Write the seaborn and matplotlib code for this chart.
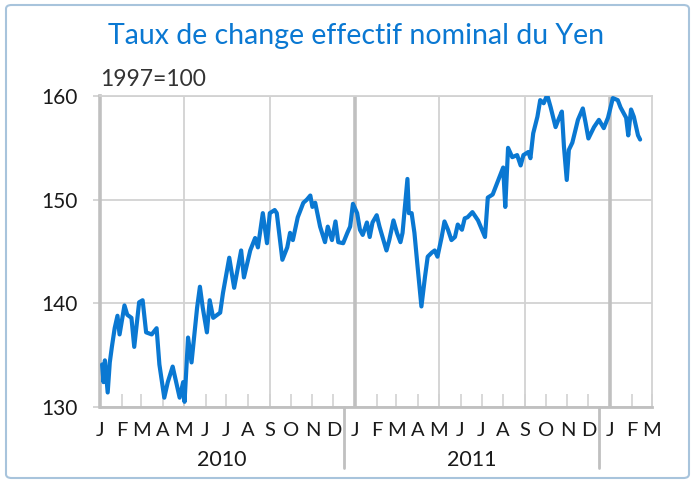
import matplotlib
matplotlib.use("Agg")
import matplotlib.pyplot as plt
import matplotlib.transforms as mtransforms
from matplotlib.patches import FancyBboxPatch
import seaborn as sns
import pandas as pd

# ---------------- data ----------------
dates = [
    "2010-01-04", "2010-01-06", "2010-01-08", "2010-01-12", "2010-01-15", "2010-01-18",
    "2010-01-22", "2010-01-26", "2010-01-29", "2010-02-05", "2010-02-09", "2010-02-15",
    "2010-02-19", "2010-02-26", "2010-03-03", "2010-03-08", "2010-03-16", "2010-03-23",
    "2010-03-27", "2010-04-03", "2010-04-08", "2010-04-15", "2010-04-21", "2010-04-25",
    "2010-04-30", "2010-05-02", "2010-05-07", "2010-05-12", "2010-05-20", "2010-05-24",
    "2010-05-28", "2010-06-03", "2010-06-07", "2010-06-12", "2010-06-22", "2010-06-26",
    "2010-07-05", "2010-07-12", "2010-07-22", "2010-07-26", "2010-08-04", "2010-08-11",
    "2010-08-15", "2010-08-22", "2010-08-28", "2010-09-01", "2010-09-08", "2010-09-11",
    "2010-09-19", "2010-09-26", "2010-09-30", "2010-10-04", "2010-10-11", "2010-10-19",
    "2010-10-24", "2010-10-29", "2010-11-01", "2010-11-05", "2010-11-12", "2010-11-19",
    "2010-11-23", "2010-11-29", "2010-12-04", "2010-12-08", "2010-12-15", "2010-12-21",
    "2010-12-25", "2010-12-29",
    "2011-01-04", "2011-01-08", "2011-01-12", "2011-01-18", "2011-01-22", "2011-01-26",
    "2011-02-01", "2011-02-05", "2011-02-15", "2011-02-19", "2011-02-25", "2011-03-02",
    "2011-03-07", "2011-03-10", "2011-03-17", "2011-03-19", "2011-03-23", "2011-03-27",
    "2011-03-31", "2011-04-06", "2011-04-11", "2011-04-15", "2011-04-21", "2011-04-25",
    "2011-04-29", "2011-05-05", "2011-05-09", "2011-05-14", "2011-05-19", "2011-05-24",
    "2011-05-28", "2011-06-03", "2011-06-07", "2011-06-11", "2011-06-18", "2011-06-26",
    "2011-07-06", "2011-07-10", "2011-07-17", "2011-07-25", "2011-08-01", "2011-08-04",
    "2011-08-08", "2011-08-14", "2011-08-21", "2011-08-26", "2011-08-30", "2011-09-06",
    "2011-09-09", "2011-09-13", "2011-09-19", "2011-09-23", "2011-09-28", "2011-10-03",
    "2011-10-08", "2011-10-15", "2011-10-19", "2011-10-24", "2011-10-27", "2011-10-31",
    "2011-11-03", "2011-11-08", "2011-11-16", "2011-11-23", "2011-11-27", "2011-12-01",
    "2011-12-09", "2011-12-16", "2011-12-23", "2011-12-29",
    "2012-01-05", "2012-01-12", "2012-01-16", "2012-01-24", "2012-01-27", "2012-01-31",
    "2012-02-04", "2012-02-10", "2012-02-13",
]
values = [
    134.1, 132.4, 134.5, 131.4, 134.3, 135.8,
    137.6, 138.8, 137.0, 139.8, 138.9, 138.6,
    135.8, 140.1, 140.3, 137.2, 137.0, 137.6,
    134.1, 130.9, 132.4, 133.9, 132.1, 130.9,
    132.4, 130.5, 136.7, 134.3, 139.6, 141.6,
    139.6, 137.2, 140.3, 138.6, 139.1, 141.0,
    144.4, 141.5, 145.1, 142.5, 145.1, 146.3,
    145.4, 148.7, 145.8, 148.7, 149.0, 148.7,
    144.2, 145.4, 146.8, 146.1, 148.3, 149.7,
    150.0, 150.4, 149.3, 149.7, 147.4, 145.9,
    147.4, 146.1, 147.9, 145.9, 145.8, 146.8,
    147.4, 149.6,
    148.7, 147.1, 146.6, 147.8, 146.4, 147.8,
    148.5, 147.4, 145.1, 146.1, 148.0, 146.8,
    145.9, 146.8, 152.0, 148.7, 148.7, 146.8,
    143.9, 139.7, 142.5, 144.5, 144.9, 145.1,
    144.5, 146.4, 147.9, 147.1, 146.1, 146.4,
    147.6, 147.1, 148.2, 148.3, 148.8, 148.0,
    146.4, 150.2, 150.5, 151.9, 153.1, 149.3,
    155.0, 154.1, 154.3, 153.3, 154.3, 154.6,
    154.0, 156.4, 158.0, 159.6, 159.3, 160.1,
    158.9, 157.0, 157.7, 158.5, 155.1, 151.9,
    154.8, 155.5, 157.7, 158.8, 157.4, 155.9,
    157.0, 157.7, 156.9, 157.9,
    159.8, 159.6, 158.9, 157.9, 156.2, 158.7,
    158.0, 156.2, 155.8,
]
month_letters = ["J", "F", "M", "A", "M", "J", "J", "A", "S", "O", "N", "D"]
years = ["2010", "2011"]
title = "Taux de change effectif nominal du Yen"
base_note = "1997=100"
y_ticks = [130, 140, 150, 160]

# ---------------- styling ----------------
sns.set_theme(style="white")
plt.rcParams['font.family'] = ['Lato', 'DejaVu Sans']

BLUE = "#0a78d2"
GRID = "#d2d2d2"
DARKGRID = "#c0c0c0"
TXT = "#1a1a1a"

df = pd.DataFrame({"date": pd.to_datetime(dates), "value": values})

fig = plt.figure(figsize=(6.95, 4.83), dpi=100)
ax = fig.add_axes([100 / 695, 1 - 407 / 483, 552 / 695, 311 / 483])

x0 = pd.Timestamp("2010-01-01")
x1 = pd.Timestamp("2012-03-01")
months = pd.date_range(x0, x1, freq="MS")

# vertical gridlines every four months
for m in months:
    if m.month == 1 and m != x0:
        ax.axvline(m, color=DARKGRID, lw=2.6, zorder=1)
    elif m.month in (5, 9):
        ax.axvline(m, color=GRID, lw=1.3, zorder=1)

sns.lineplot(data=df, x="date", y="value", ax=ax, color=BLUE, lw=3.0,
             zorder=3, solid_capstyle="round", solid_joinstyle="round")

ax.set_xlim(x0, x1)
ax.set_ylim(130, 160)
ax.set_xlabel("")
ax.set_ylabel("")

# y axis
ax.set_yticks(y_ticks)
ax.set_yticklabels([str(v) for v in y_ticks])
ax.yaxis.grid(True, color=GRID, lw=1.3)
ax.xaxis.grid(False)
ax.tick_params(axis="y", direction="out", length=5, width=1.3, color=GRID,
               labelsize=15, labelcolor=TXT, pad=11, left=True)

# x axis: month letters at each month start
ax.set_xticks(months)
ax.set_xticklabels([month_letters[m.month - 1] for m in months])
ax.tick_params(axis="x", direction="in", length=9.5, width=1.2, color=GRID,
               labelsize=14.5, labelcolor=TXT, pad=11, bottom=True)

# spines
for s in ax.spines.values():
    s.set_visible(True)
ax.spines["left"].set_color(DARKGRID)
ax.spines["left"].set_linewidth(2.6)
ax.spines["bottom"].set_color(DARKGRID)
ax.spines["bottom"].set_linewidth(2.0)
ax.spines["right"].set_color(GRID)
ax.spines["right"].set_linewidth(1.3)
ax.spines["top"].set_color(GRID)
ax.spines["top"].set_linewidth(1.3)

# year separators and labels below axis
trans = mtransforms.blended_transform_factory(ax.transData, ax.transAxes)
seps = [pd.Timestamp("2010-12-16"), pd.Timestamp("2011-12-16")]
for s in seps:
    ax.plot([s, s], [0, -0.196], transform=trans, color=DARKGRID, lw=2.0,
            clip_on=False, zorder=1)
bounds = [x0] + seps
for i, yr in enumerate(years):
    xc = bounds[i] + (bounds[i + 1] - bounds[i]) / 2
    ax.text(xc, -0.172, yr, transform=trans, ha="center", va="center",
            fontsize=15.5, color=TXT)

# titles
fig.text(0.512, 1 - 36 / 483, title, ha="center", va="center",
         fontsize=20.5, color=BLUE)
fig.text(100 / 695, 1 - 80 / 483, base_note, ha="left", va="center",
         fontsize=16.5, color="#333333")

# rounded figure border
border = FancyBboxPatch((6 / 695, 5 / 483), 683 / 695, 473 / 483,
                        boxstyle="round,pad=0,rounding_size=0.008",
                        transform=fig.transFigure, fill=False,
                        ec="#a8c4dc", lw=1.5)
fig.patches.append(border)

fig.savefig("out.png", dpi=100)
